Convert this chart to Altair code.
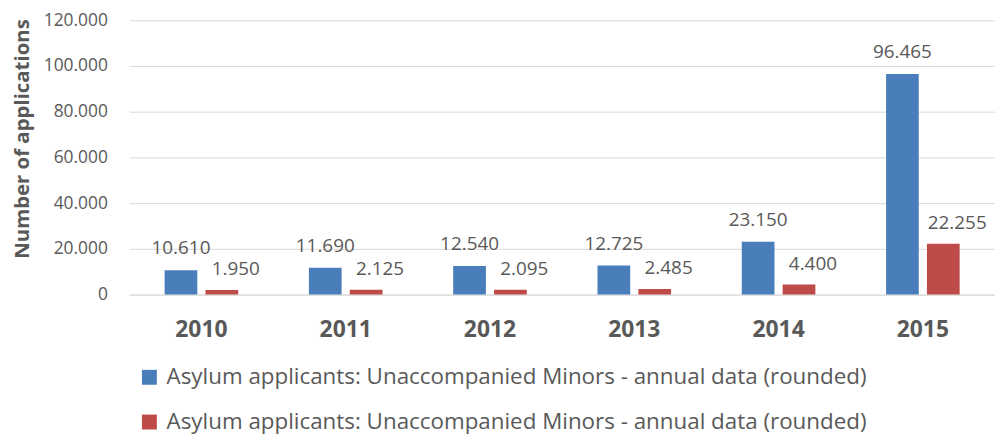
import altair as alt
import pandas as pd

years = ["2010", "2011", "2012", "2013", "2014", "2015"]
series_a = [10610, 11690, 12540, 12725, 23150, 96465]
series_b = [1950, 2125, 2095, 2485, 4400, 22255]
series_names = ["A", "B"]
legend_label = "Asylum applicants: Unaccompanied Minors - annual data (rounded)"
colors = ["#4A7EBB", "#BE4B48"]
y_ticks = [0, 20000, 40000, 60000, 80000, 100000, 120000]


def fmt(v):
    return f"{v:,}".replace(",", ".")


rows = []
for i, y in enumerate(years):
    rows.append({"year": y, "series": "A", "value": series_a[i], "label": fmt(series_a[i])})
    rows.append({"year": y, "series": "B", "value": series_b[i], "label": fmt(series_b[i])})
df = pd.DataFrame(rows)

FONT = "Open Sans"
GREY = "#595959"

x_enc = alt.X("year:N", sort=years,
              scale=alt.Scale(paddingInner=0.49, paddingOuter=0.245),
              axis=alt.Axis(title=None, labelFont=FONT, labelFontSize=23, labelFontWeight="bold",
                            labelColor=GREY, labelPadding=24, ticks=False, domain=True,
                            domainColor="#d9d9d9", labelAngle=0))
xoff = alt.XOffset("series:N", scale=alt.Scale(paddingInner=0.2, paddingOuter=0))

y_enc = alt.Y("value:Q", scale=alt.Scale(domain=[0, 120000], nice=False),
              axis=alt.Axis(values=y_ticks, title="Number of applications",
                            labelExpr="datum.value == 0 ? '0' : replace(format(datum.value, ','), ',', '.')",
                            labelFont=FONT, labelFontSize=17.5, labelColor=GREY, labelPadding=22,
                            ticks=False, domain=False, gridColor="#d9d9d9",
                            titleFont=FONT, titleFontSize=20.5, titleFontWeight="bold", titleColor=GREY,
                            titlePadding=11, titleY=119))

bars = alt.Chart(df).mark_bar().encode(
    x=x_enc,
    xOffset=xoff,
    y=y_enc,
    color=alt.Color("series:N", scale=alt.Scale(domain=series_names, range=colors),
                    legend=alt.Legend(title=None, orient="none", legendX=9, legendY=348,
                                      direction="vertical", symbolType="square", symbolSize=225,
                                      symbolStrokeWidth=0, labelFont=FONT, labelFontSize=22.5,
                                      labelColor=GREY, rowPadding=22, labelLimit=900, labelOffset=6,
                                      labelExpr=f"'{legend_label}'")),
)

base_text = alt.Chart(df).encode(
    x=alt.X("year:N", sort=years),
    xOffset=alt.XOffset("series:N"),
    y=alt.Y("value:Q"),
    text="label:N",
)
labels_a = base_text.transform_filter(alt.datum.series == "A").mark_text(
    baseline="alphabetic", dy=-16, font=FONT, fontSize=19, color=GREY)
labels_b = base_text.transform_filter(alt.datum.series == "B").mark_text(
    baseline="alphabetic", dy=-15, dx=14, font=FONT, fontSize=19, color=GREY)

chart = (bars + labels_a + labels_b).properties(
    width=871, height=276,
    autosize=alt.AutoSizeParams(type="none"),
    padding={"left": 122, "top": 11, "right": 0, "bottom": 142},
).configure_view(stroke=None)

chart.save("out.html", embed_options={"renderer": "svg", "actions": False})
